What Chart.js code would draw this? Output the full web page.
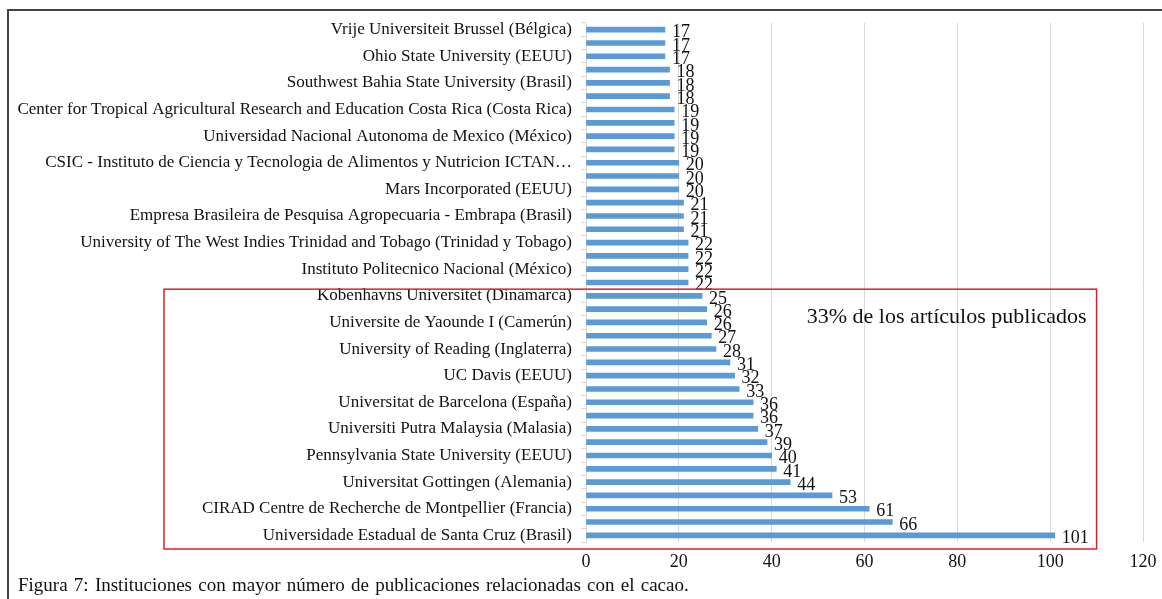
<!DOCTYPE html>
<html>
<head>
<meta charset="utf-8">
<script src="https://cdn.jsdelivr.net/npm/chart.js@4.4.1/dist/chart.umd.min.js"></script>
<style>
    body { margin: 0; background: #fff; font-family: "Liberation Serif", serif; }
    #wrap { position: relative; width: 1162px; height: 599px; overflow: hidden; }
    #frame { position: absolute; left: 7px; top: 9px; right: -5px; bottom: -5px;
             border-top: 2px solid #444; border-left: 2px solid #444; }
    #chart { position: absolute; left: 0; top: 0; }
    #caption { position: absolute; left: 18px; top: 574px; font-size: 19px; word-spacing: 1.5px;
               color: #111; white-space: nowrap; }
</style>
</head>
<body>
<div id="wrap">
    <div id="frame"></div>
    <canvas id="chart" width="1162" height="575"></canvas>
    <div id="caption">Figura 7: Instituciones con mayor número de publicaciones relacionadas con el cacao.</div>
</div>
<script>
// categories, top to bottom (labels that the picture skips are left blank)
const institutions = [
    "Vrije Universiteit Brussel (Bélgica)", "",
    "Ohio State University (EEUU)", "",
    "Southwest Bahia State University (Brasil)", "",
    "Center for Tropical Agricultural Research and Education Costa Rica (Costa Rica)", "",
    "Universidad Nacional Autonoma de Mexico (México)", "",
    "CSIC - Instituto de Ciencia y Tecnologia de Alimentos y Nutricion ICTAN…", "",
    "Mars Incorporated (EEUU)", "",
    "Empresa Brasileira de Pesquisa Agropecuaria - Embrapa (Brasil)", "",
    "University of The West Indies Trinidad and Tobago (Trinidad y Tobago)", "",
    "Instituto Politecnico Nacional (México)", "",
    "Kobenhavns Universitet (Dinamarca)", "",
    "Universite de Yaounde I (Camerún)", "",
    "University of Reading (Inglaterra)", "",
    "UC Davis (EEUU)", "",
    "Universitat de Barcelona (España)", "",
    "Universiti Putra Malaysia (Malasia)", "",
    "Pennsylvania State University (EEUU)", "",
    "Universitat Gottingen (Alemania)", "",
    "CIRAD Centre de Recherche de Montpellier (Francia)", "",
    "Universidade Estadual de Santa Cruz (Brasil)"
];

const publications = [17, 17, 17, 18, 18, 18, 19, 19, 19, 19,
                      20, 20, 20, 21, 21, 21, 22, 22, 22, 22,
                      25, 26, 26, 27, 28, 31, 32, 33, 36, 36,
                      37, 39, 40, 41, 44, 53, 61, 66, 101];

const xTicks = [0, 20, 40, 60, 80, 100, 120];

const boxFirstIndex = 20;   // first institution inside the red box
const boxRightValue = 110;
const boxNote = "33% de los artículos publicados";

const serif = "'Liberation Serif', 'Times New Roman', serif";

const valueLabels = {
    id: 'valueLabels',
    afterDatasetsDraw(chart) {
        const ctx = chart.ctx;
        const meta = chart.getDatasetMeta(0);
        ctx.save();
        ctx.font = "18px " + serif;
        ctx.fillStyle = "#111";
        ctx.textAlign = "left";
        ctx.textBaseline = "middle";
        meta.data.forEach((bar, i) => {
            ctx.fillText(String(publications[i]), bar.x + 7, bar.y + 3);
        });
        ctx.restore();
    }
};

const highlightBox = {
    id: 'highlightBox',
    afterDraw(chart) {
        const ctx = chart.ctx;
        const y = chart.scales.y, x = chart.scales.x;
        const top = (y.getPixelForValue(boxFirstIndex - 1) + y.getPixelForValue(boxFirstIndex)) / 2;
        const bottom = chart.chartArea.bottom + 7;
        const left = 164;
        const right = x.getPixelForValue(boxRightValue);
        ctx.save();
        ctx.strokeStyle = "#d8232b";
        ctx.lineWidth = 1.5;
        ctx.strokeRect(left, top, right - left, bottom - top);
        ctx.font = "22px " + serif;
        ctx.fillStyle = "#111";
        ctx.textAlign = "right";
        ctx.textBaseline = "middle";
        ctx.fillText(boxNote, right - 10, top + 28);
        ctx.restore();
    }
};

new Chart(document.getElementById('chart').getContext('2d'), {
    type: 'bar',
    data: {
        labels: institutions,
        datasets: [{
            data: publications,
            backgroundColor: '#5b9bd5',
            barThickness: 5
        }]
    },
    options: {
        indexAxis: 'y',
        responsive: false,
        animation: false,
        layout: { padding: { left: 10, right: 19, top: 23, bottom: 3 } },
        plugins: {
            legend: { display: false },
            tooltip: { enabled: false }
        },
        scales: {
            x: {
                min: 0,
                max: 120,
                afterBuildTicks: (scale) => { scale.ticks = xTicks.map(v => ({ value: v })); },
                afterFit: (scale) => {
                    scale.height = 30;
                    scale.paddingRight = 0;
                },
                ticks: { color: '#111', font: { family: serif, size: 18 }, padding: 9 },
                grid: { color: '#d9d9d9', drawTicks: false },
                border: { display: false }
            },
            y: {
                afterFit: (scale) => { scale.width = 576; },
                ticks: { autoSkip: false, color: '#111', font: { family: serif, size: 17 }, padding: 9 },
                grid: { drawOnChartArea: false, color: '#d9d9d9', tickLength: 5 },
                border: { color: '#d9d9d9' }
            }
        }
    },
    plugins: [valueLabels, highlightBox]
});
</script>
</body>
</html>
